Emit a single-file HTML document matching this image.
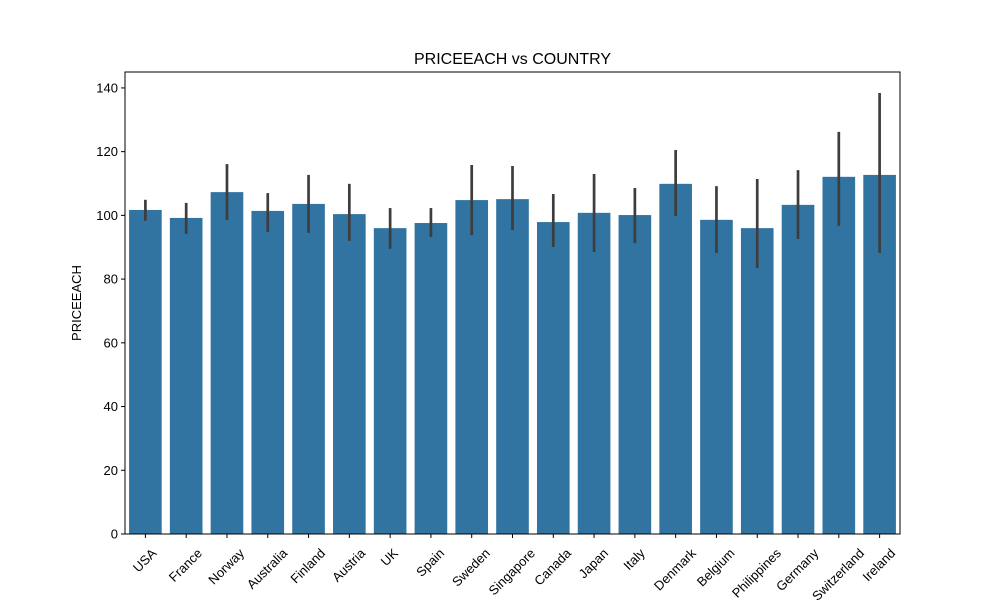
<!DOCTYPE html>
<html><head><meta charset="utf-8">
<style>
html,body{margin:0;padding:0;background:#fff;}
svg{display:block;font-family:"Liberation Sans","DejaVu Sans",sans-serif;}
</style></head>
<body>
<svg id="chart" width="1000" height="600" viewBox="0 0 1000 600">
<rect x="0" y="0" width="1000" height="600" fill="#fff"/>
<text x="512.5" y="64" text-anchor="middle" font-size="16" fill="#000">PRICEEACH vs COUNTRY</text>
<text x="81" y="303" text-anchor="middle" font-size="13" fill="#000" transform="rotate(-90 81 303)">PRICEEACH</text>
<g id="bars"></g>
<g id="errs"></g>
<g id="yticks"></g>
<g id="xticks"></g>
<rect x="125" y="72" width="775" height="462" fill="none" stroke="#000" stroke-width="1"/>
</svg>
<script>
const categories = ["USA","France","Norway","Australia","Finland","Austria","UK","Spain","Sweden","Singapore","Canada","Japan","Italy","Denmark","Belgium","Philippines","Germany","Switzerland","Ireland"];
const values = [101.7,99.2,107.3,101.4,103.6,100.4,96.0,97.6,104.8,105.1,97.9,100.8,100.1,109.9,98.6,96.0,103.3,112.1,112.7];
const ciLow = [98.3,94.2,98.6,94.8,94.5,92.0,89.5,93.2,93.8,95.4,90.1,88.5,91.3,99.8,88.2,83.5,92.6,96.7,88.2];
const ciHigh = [104.9,103.9,116.1,107.0,112.7,109.9,102.3,102.3,115.8,115.5,106.7,113.0,108.6,120.5,109.2,111.4,114.2,126.2,138.4];
const yTicks = [0,20,40,60,80,100,120,140];

const NS="http://www.w3.org/2000/svg";
const L=125,R=900,T=72,B=534;
const yMax=145.0;
const y=v=>B-(v/yMax)*(B-T);
const band=(R-L)/categories.length;
const x=i=>L+band*i+band/2;
const bw=band*0.8;
function mk(tag,attrs){const e=document.createElementNS(NS,tag);for(const k in attrs)e.setAttribute(k,attrs[k]);return e;}
const gb=document.getElementById('bars'),ge=document.getElementById('errs'),gy=document.getElementById('yticks'),gx=document.getElementById('xticks');
categories.forEach((c,i)=>{
  const r=mk('rect',{x:x(i)-bw/2,y:y(values[i]),width:bw,height:y(0)-y(values[i]),fill:'#3274a1'});
  
  
  gb.appendChild(r);
  const l=mk('line',{x1:x(i),x2:x(i),y1:y(ciLow[i]),y2:y(ciHigh[i]),stroke:'#3d3d3d','stroke-width':2.7});
  
  
  ge.appendChild(l);
  const t=mk('line',{x1:x(i),x2:x(i),y1:B,y2:B+4,stroke:'#000'});
  
  
  gx.appendChild(t);
  const tx=mk('text',{x:0,y:0,'text-anchor':'middle','dominant-baseline':'middle','font-size':13});
  tx.textContent=c;
  
  
  gx.appendChild(tx);
  const w=tx.getComputedTextLength();
  const bh=(w+13)*0.7071;
  const cx=x(i), cy=B+13+bh/2;
  tx.setAttribute('x',cx);
  tx.setAttribute('y',cy);
  tx.setAttribute('transform','rotate(-45 '+cx+' '+cy+')');
});
yTicks.forEach(v=>{
  const t=mk('line',{x1:L-4,x2:L,y1:y(v),y2:y(v),stroke:'#000'});
  
  
  gy.appendChild(t);
  const tx=mk('text',{x:L-7,y:y(v)+4.5,'text-anchor':'end','font-size':13});
  tx.textContent=v;
  
  
  gy.appendChild(tx);
});
</script>
</body></html>
